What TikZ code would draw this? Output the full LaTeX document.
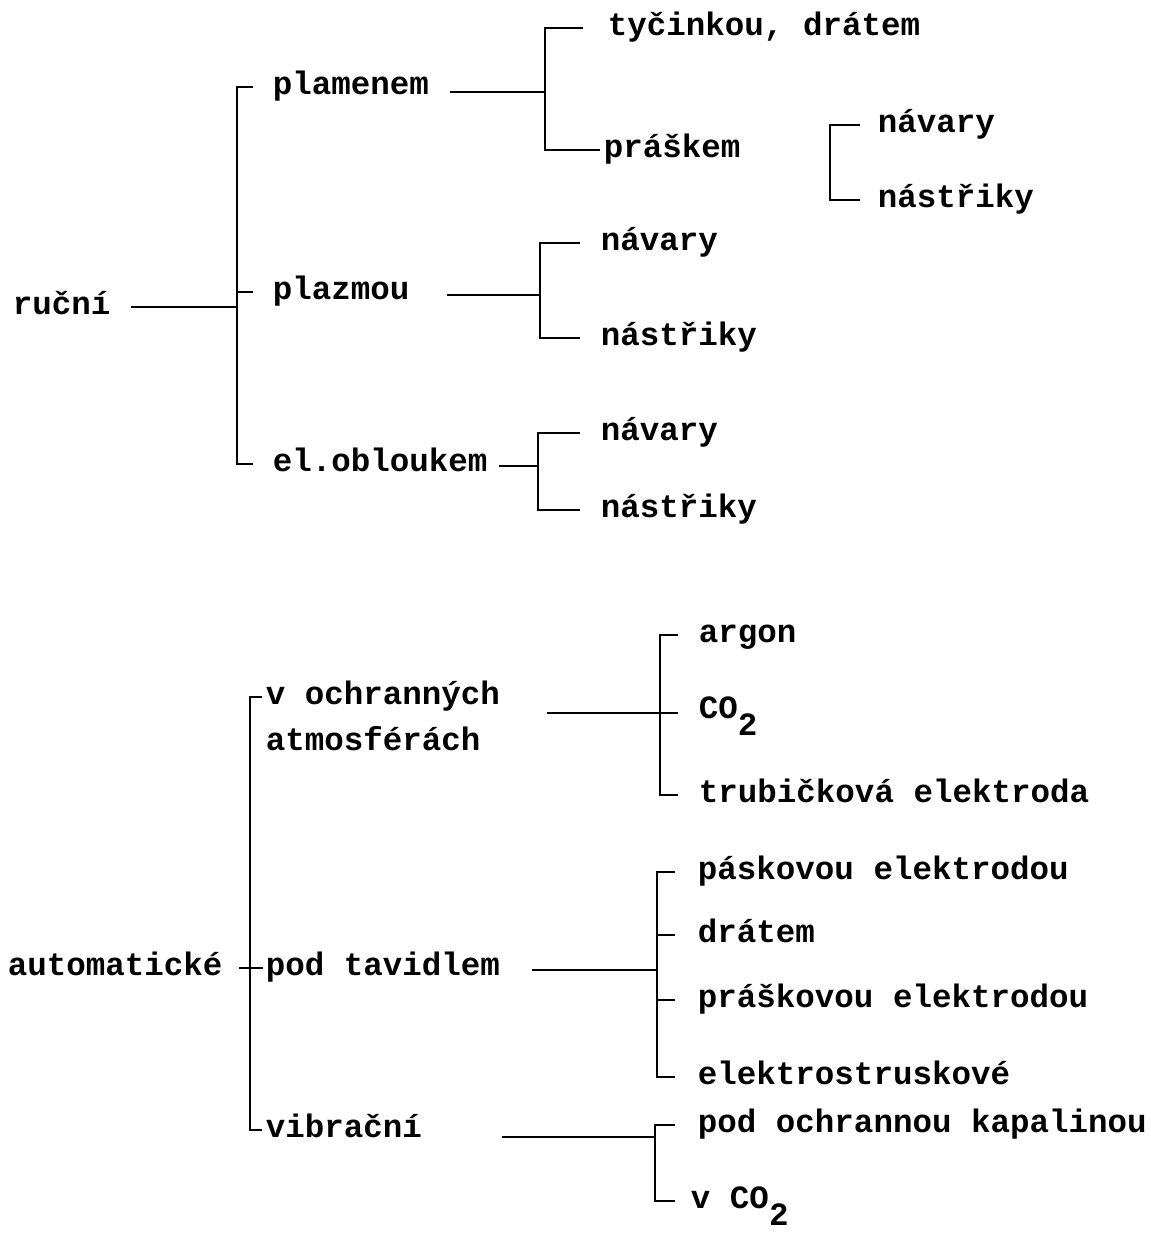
\documentclass[tikz,border=0pt]{standalone}
\usepackage{fontspec}
\setmainfont{Liberation Mono}

\begin{document}
\begin{tikzpicture}[x=0.02cm,y=-0.02cm,line width=1.1pt]

        \useasboundingbox (0,0) rectangle (1151,1239);

        \begin{scope}[every node/.style={anchor=west,inner sep=0pt,text height=1.6ex,text depth=0ex,font=\fontsize{18.5}{22}\selectfont\bfseries}]
          % rucni
          \node (rucni)     at (12,307)  {ruční};
          \node (plamenem)  at (272,87)  {plamenem};
          \node (plazmou)   at (272,292) {plazmou};
          \node (elobl)     at (272,464) {el.obloukem};
          \node (tycinkou)  at (607,28)  {tyčinkou, drátem};
          \node (praskem)   at (603,150) {práškem};
          \node (pnavary)   at (877,125) {návary};
          \node (pnastriky) at (877,200) {nástřiky};
          \node (znavary)   at (600,243) {návary};
          \node (znastriky) at (600,338) {nástřiky};
          \node (enavary)   at (600,433) {návary};
          \node (enastriky) at (600,510) {nástřiky};
          % automaticke
          \node (automat)   at (7,968)   {automatické};
          \node (vochr)     at (265,697) {v ochranných};
          \node (atmosf)    at (265,743) {atmosférách};
          \node (podtav)    at (265,968) {pod tavidlem};
          \node (vibracni)  at (265,1130) {vibrační};
          \node (argon)     at (698,635) {argon};
          \node (co)        at (698,711) {CO\raisebox{-1ex}{2}};
          \node (trubic)    at (698,795) {trubičková elektroda};
          \node (pasko)     at (697,872) {páskovou elektrodou};
          \node (dratem)    at (697,935) {drátem};
          \node (prasko)    at (697,1000) {práškovou elektrodou};
          \node (elstrus)   at (697,1077) {elektrostruskové};
          \node (podochr)   at (697,1125) {pod ochrannou kapalinou};
          \node (vco)       at (690,1201) {v CO\raisebox{-1ex}{2}};
        \end{scope}

        \coordinate (ru-j) at (237,307);
        \coordinate (pl-j) at (545,92);
        \coordinate (pr-j) at (830,160);
        \coordinate (pz-j) at (540,295);
        \coordinate (eo-j) at (538,466);
        \coordinate (au-j) at (250,968);
        \coordinate (vo-j) at (660,713);
        \coordinate (pt-j) at (657,970);
        \coordinate (vi-j) at (655,1137);

        % rucni
        \draw[shorten <=0.4cm] (rucni.east) -- (ru-j);
        \draw[shorten <=0.38cm, shorten >=0.38cm] (plamenem.west) -| (ru-j) |- (elobl.west);
        \draw[shorten <=0.38cm] (plazmou.west) -- (plazmou.west -| ru-j);

        \draw[shorten <=0.4cm] (plamenem.east |- pl-j) -- (pl-j);
        \draw[shorten <=0.48cm, shorten >=0.06cm] (tycinkou.west) -| (pl-j) |- (praskem.west);
        \draw[shorten <=0.34cm, shorten >=0.34cm] (pnavary.west) -| (pr-j) |- (pnastriky.west);

        \draw[shorten <=0.73cm] (plazmou.east |- pz-j) -- (pz-j);
        \draw[shorten <=0.4cm, shorten >=0.4cm] (znavary.west) -| (pz-j) |- (znastriky.west);

        \draw[shorten <=0.21cm] (elobl.east |- eo-j) -- (eo-j);
        \draw[shorten <=0.4cm, shorten >=0.4cm] (enavary.west) -| (eo-j) |- (enastriky.west);

        % automaticke
        \draw[shorten <=0.31cm, shorten >=1pt] (automat.east) -- (podtav.west);
        \draw[shorten <=0.06cm, shorten >=0.06cm] (vochr.west) -| (au-j) |- (vibracni.west);

        \draw[shorten <=0.92cm, shorten >=0.4cm] (vochr.east |- vo-j) -- (co.west |- vo-j);
        \draw[shorten <=0.4cm, shorten >=0.4cm] (argon.west) -| (vo-j) |- (trubic.west);

        \draw[shorten <=0.62cm] (podtav.east |- pt-j) -- (pt-j);
        \draw[shorten <=0.44cm, shorten >=0.44cm] (pasko.west) -| (pt-j) |- (elstrus.west);
        \draw[shorten <=0.44cm] (dratem.west) -- (dratem.west -| pt-j);
        \draw[shorten <=0.44cm] (prasko.west) -- (prasko.west -| pt-j);

        \draw[shorten <=1.58cm] (vibracni.east |- vi-j) -- (vi-j);
        \draw[shorten <=0.44cm, shorten >=0.3cm] (podochr.west) -| (vi-j) |- (vco.west);

      \end{tikzpicture}
\end{document}
